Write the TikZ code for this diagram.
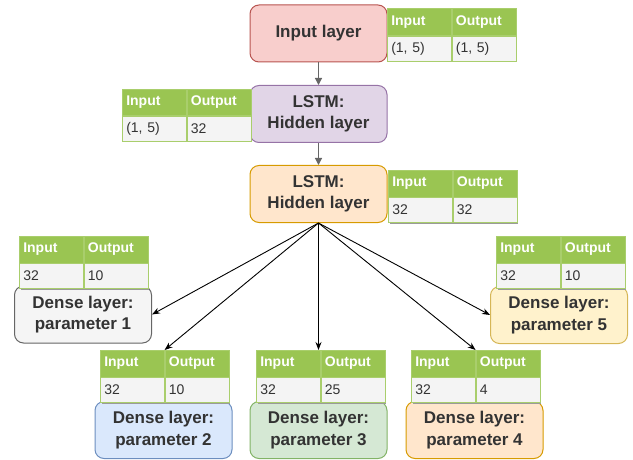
\documentclass[tikz,border=0pt]{standalone}
\usepackage{fontspec}
\setmainfont{Liberation Sans}
\usetikzlibrary{arrows.meta}
\definecolor{txt}{HTML}{333333}
\definecolor{hdg}{HTML}{9AC552}
\definecolor{bdy}{HTML}{F4F4F4}
\definecolor{shd}{HTML}{9A9A9A}
\definecolor{redf}{HTML}{F8CECC}\definecolor{redd}{HTML}{B85450}
\definecolor{purf}{HTML}{E1D5E7}\definecolor{purd}{HTML}{9673A6}
\definecolor{orgf}{HTML}{FFE6CC}\definecolor{orgd}{HTML}{D79B00}
\definecolor{gryf}{HTML}{F5F5F5}\definecolor{gryd}{HTML}{666666}
\definecolor{bluf}{HTML}{DAE8FC}\definecolor{blud}{HTML}{6C8EBF}
\definecolor{grnf}{HTML}{D5E8D4}\definecolor{grnd}{HTML}{82B366}
\definecolor{yelf}{HTML}{FFF2CC}\definecolor{yeld}{HTML}{D6B656}
\tikzset{
  layer/.style={draw, rounded corners=9pt, line width=1pt, minimum width=137pt, minimum height=57pt,
    align=center, text=txt, font=\fontsize{17}{21.5}\selectfont\bfseries, inner sep=2pt},
  hd/.style={fill=hdg, draw=hdg!85!white, line width=0.6pt, text=white, font=\fontsize{14}{16}\selectfont\bfseries,
    text width=56pt, align=left, inner xsep=4pt, inner ysep=0pt, minimum height=26.5pt, anchor=north west},
  bd/.style={fill=bdy, draw=hdg!85!white, line width=0.6pt, text=txt, font=\fontsize{14}{16}\selectfont,
    text width=56pt, align=left, inner xsep=4pt, inner ysep=0pt, minimum height=25pt, anchor=north west},
  garr/.style={draw=black!60, line width=1.2pt, -{Triangle[length=7pt,width=7pt]}},
  barr/.style={draw=black, line width=0.9pt, -{Stealth[length=8pt,width=6pt]}}
}
\newcommand\iotab[4]{%
  \fill[shd] (#2) ++(2,2) rectangle ++(128,51.5);
  \node[hd] (#1a) at (#2) {Input};
  \node[hd] (#1b) at (#1a.north east) {Output};
  \node[bd] (#1c) at (#1a.south west) {#3};
  \node[bd] (#1d) at (#1c.north east) {#4};
}
\begin{document}
\begin{tikzpicture}[x=1pt,y=-1pt]
\useasboundingbox (0,0) rectangle (633,460);
% layers
\node[layer, fill=redf, draw=redd] (in) at (318.5,33.5) {Input layer};
\node[layer, fill=purf, draw=purd] (l1) at (318.5,114) {LSTM:\\Hidden layer};
\node[layer, fill=orgf, draw=orgd] (l2) at (318.5,194) {LSTM:\\Hidden layer};
\node[layer, fill=gryf, draw=gryd] (d1) at (83,314.5) {Dense layer:\\parameter 1};
\node[layer, fill=bluf, draw=blud] (d2) at (163.5,430) {Dense layer:\\parameter 2};
\node[layer, fill=grnf, draw=grnd] (d3) at (318.5,430) {Dense layer:\\parameter 3};
\node[layer, fill=orgf, draw=orgd] (d4) at (474.5,430) {Dense layer:\\parameter 4};
\node[layer, fill=yelf, draw=yeld] (d5) at (559,315) {Dense layer:\\parameter 5};
% tables
\iotab{ti}{387,8.5}{(1, 5)}{(1, 5)}
\iotab{tl}{122,89}{(1, 5)}{32}
\iotab{tm}{388,170}{32}{32}
\iotab{ta}{19,236}{32}{10}
\iotab{te}{496,236}{32}{10}
\iotab{tb}{100,350}{32}{10}
\iotab{tc}{256,350}{32}{25}
\iotab{td}{411,350}{32}{4}
% connectors
\draw[garr] (in) -- (l1);
\draw[garr] (l1) -- (l2);
\draw[barr] (l2.south) -- (d1.east);
\draw[barr] (l2.south) -- (tba.north east);
\draw[barr] (l2.south) -- (l2.south |- tca.north);
\draw[barr] (l2.south) -- (tda.north east);
\draw[barr] (l2.south) -- (d5.west);
\end{tikzpicture}
\end{document}
